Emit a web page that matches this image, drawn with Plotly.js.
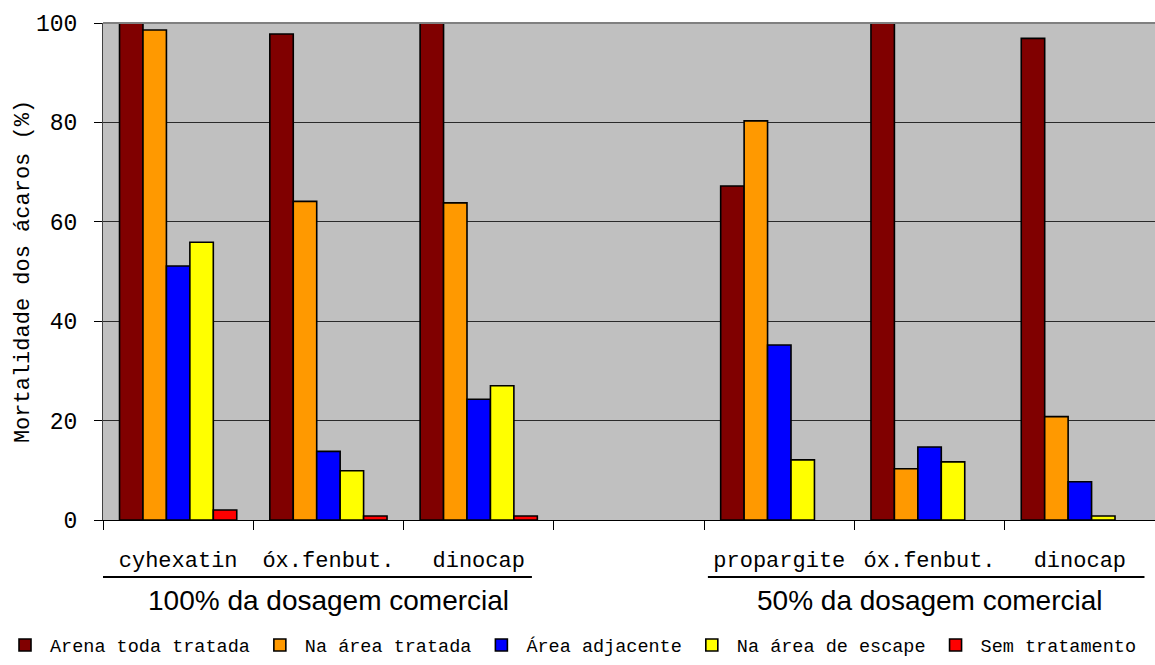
<!DOCTYPE html>
<html>
<head>
<meta charset="utf-8">
<script src="https://cdn.plot.ly/plotly-3.0.1.min.js"></script>
<style>
  html, body { margin: 0; padding: 0; background: #ffffff; }
  #chart { width: 1155px; height: 665px; }
</style>
</head>
<body>
<div id="chart"></div>
<script>
// Acaricide trials: mite mortality (%) by product and where the mites were found.
// Slot 3 is an empty spacer between the 100% and 50% dosage groups.
const categories = ["cyhexatin", "óx.fenbut.", "dinocap", "", "propargite", "óx.fenbut.", "dinocap"];

const seriesNames = [
  "Arena toda tratada",
  "Na área tratada",
  "Área adjacente",
  "Na área de escape",
  "Sem tratamento"
];

const arenaTodaTratada = [100, 97.8, 100, null, 67.2, 100, 96.9];
const naAreaTratada    = [98.6, 64.1, 63.8, null, 80.3, 10.3, 20.8];
const areaAdjacente    = [51.1, 13.8, 24.3, null, 35.2, 14.7, 7.7];
const naAreaDeEscape   = [55.9, 9.9, 27.0, null, 12.1, 11.7, 0.8];
const semTratamento    = [2.0, 0.8, 0.8, null, null, null, null];

const groupLabels = ["100% da dosagem comercial", "50% da dosagem comercial"];
const yTicks = [0, 20, 40, 60, 80, 100];

const seriesValues = [arenaTodaTratada, naAreaTratada, areaAdjacente, naAreaDeEscape, semTratamento];
const seriesColors = ["#800000", "#FF9900", "#0000FF", "#FFFF00", "#FF0000"];

const slots = categories.map((_, i) => i);

const traces = seriesValues.map((vals, k) => ({
  type: "bar",
  name: seriesNames[k],
  x: slots,
  y: vals,
  marker: { color: seriesColors[k], line: { color: "#000000", width: 1.6 } },
  hoverinfo: "x+y+name"
}));

const mono = "Liberation Mono, DejaVu Sans Mono, monospace";
const sans = "Liberation Sans, Arial, sans-serif";

const layout = {
  width: 1155,
  height: 665,
  margin: { l: 103, r: 0, t: 23, b: 145 },
  paper_bgcolor: "#ffffff",
  plot_bgcolor: "#C0C0C0",
  barmode: "group",
  bargap: 0.22,
  bargroupgap: 0,
  showlegend: true,
  legend: {
    orientation: "h",
    xref: "paper",
    yref: "paper",
    x: -0.0979, xanchor: "left",
    y: -0.2525, yanchor: "middle",
    font: { family: mono, size: 18.5, color: "#000000" },
    bgcolor: "rgba(0,0,0,0)",
    itemwidth: 40,
    traceorder: "normal"
  },
  xaxis: {
    type: "linear",
    range: [-0.5, categories.length - 0.5],
    tickmode: "array",
    tickvals: slots,
    ticktext: categories,
    ticks: "",
    ticklabelstandoff: 20,
    tickfont: { family: mono, size: 22, color: "#000000" },
    showgrid: false,
    zeroline: false,
    showline: true,
    linecolor: "#000000",
    linewidth: 1,
    automargin: false,
    minor: {
      tickmode: "linear",
      tick0: -0.5,
      dtick: 1,
      ticks: "outside",
      ticklen: 9,
      tickcolor: "#000000",
      tickwidth: 1,
      showgrid: false
    },
    fixedrange: true
  },
  yaxis: {
    range: [0, 100],
    tickmode: "array",
    tickvals: yTicks,
    ticktext: yTicks.map(String),
    ticks: "outside",
    ticklen: 8,
    tickcolor: "#000000",
    ticklabelstandoff: 12,
    tickfont: { family: mono, size: 23, color: "#000000" },
    showgrid: true,
    gridcolor: "#2a2a2a",
    gridwidth: 1,
    zeroline: false,
    showline: true,
    linecolor: "#404040",
    linewidth: 1,
    automargin: false,
    title: {
      text: "Mortalidade dos ácaros (%)",
      font: { family: mono, size: 22, color: "#000000" },
      standoff: 0
    },
    fixedrange: true
  },
  shapes: [
    // plot area top border
    { type: "line", xref: "paper", yref: "paper", x0: 0, x1: 1, y0: 1, y1: 1,
      line: { color: "#808080", width: 2 } },
    // underline beneath each dosage group's product names
    { type: "line", xref: "x", yref: "paper", x0: -0.5, x1: 2.354, y0: -0.1147, y1: -0.1147,
      line: { color: "#000000", width: 2 } },
    { type: "line", xref: "x", yref: "paper", x0: 3.525, x1: 6.43, y0: -0.1147, y1: -0.1147,
      line: { color: "#000000", width: 2 } }
  ],
  annotations: [
    { xref: "x", yref: "paper", x: 1, y: -0.161, yanchor: "middle", showarrow: false,
      text: groupLabels[0], font: { family: sans, size: 28, color: "#000000" } },
    { xref: "x", yref: "paper", x: 5, y: -0.161, yanchor: "middle", showarrow: false,
      text: groupLabels[1], font: { family: sans, size: 28, color: "#000000" } }
  ]
};

Plotly.newPlot("chart", traces, layout, { displayModeBar: false, staticPlot: true });
</script>
</body>
</html>
